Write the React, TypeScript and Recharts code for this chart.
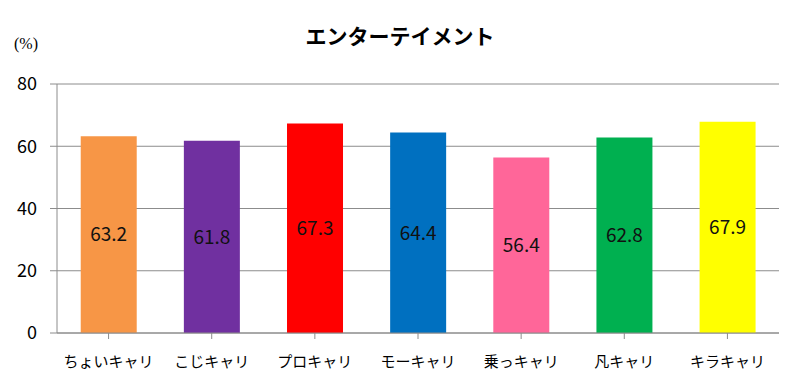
import { Bar, BarChart, CartesianGrid, Cell, LabelList, XAxis, YAxis } from 'recharts';

const categories = ['ちょいキャリ', 'こじキャリ', 'プロキャリ', 'モーキャリ', '乗っキャリ', '凡キャリ', 'キラキャリ'];
const values = [63.2, 61.8, 67.3, 64.4, 56.4, 62.8, 67.9];
const colors = ['#F79646', '#7030A0', '#FF0000', '#0070C0', '#FF6699', '#00B050', '#FFFF00'];
const yTicks = [0, 20, 40, 60, 80];

const data = categories.map((name, i) => ({ name, value: values[i] }));

const font = '"Noto Sans CJK JP", "Noto Sans", sans-serif';

export default function App() {
  return (
    <div style={{ position: 'relative', width: 800, height: 390, margin: -8, background: '#fff', fontFamily: font }}>
      <div style={{ position: 'absolute', left: 0, width: 800, top: 20, textAlign: 'center', fontSize: 21, fontWeight: 'bold', color: '#000' }}>
        エンターテイメント
      </div>
      <div style={{ position: 'absolute', left: 14, top: 35, fontSize: 16, fontFamily: '"Liberation Serif", serif', color: '#000' }}>
        (%)
      </div>
      <BarChart
        width={800}
        height={390}
        data={data}
        margin={{ top: 84, right: 21, bottom: 0, left: 0 }}
        barCategoryGap="23%"
      >
        <CartesianGrid vertical={false} stroke="#8c8c8c" />
        <XAxis
          dataKey="name"
          height={57}
          tickSize={6}
          tickMargin={17}
          stroke="#8c8c8c"
          tick={{ fill: '#000', fontSize: 15, fontFamily: font }}
          interval={0}
        />
        <YAxis
          width={57}
          domain={[0, 80]}
          ticks={yTicks}
          tickSize={7}
          tickMargin={13}
          stroke="#8c8c8c"
          tick={{ fill: '#000', fontSize: 18, fontFamily: font }}
        />
        <Bar dataKey="value" isAnimationActive={false}>
          {data.map((d, i) => (
            <Cell key={d.name} fill={colors[i]} />
          ))}
          <LabelList dataKey="value" position="center" fill="#111" fontSize={19} fontFamily={font} />
        </Bar>
      </BarChart>
    </div>
  );
}
